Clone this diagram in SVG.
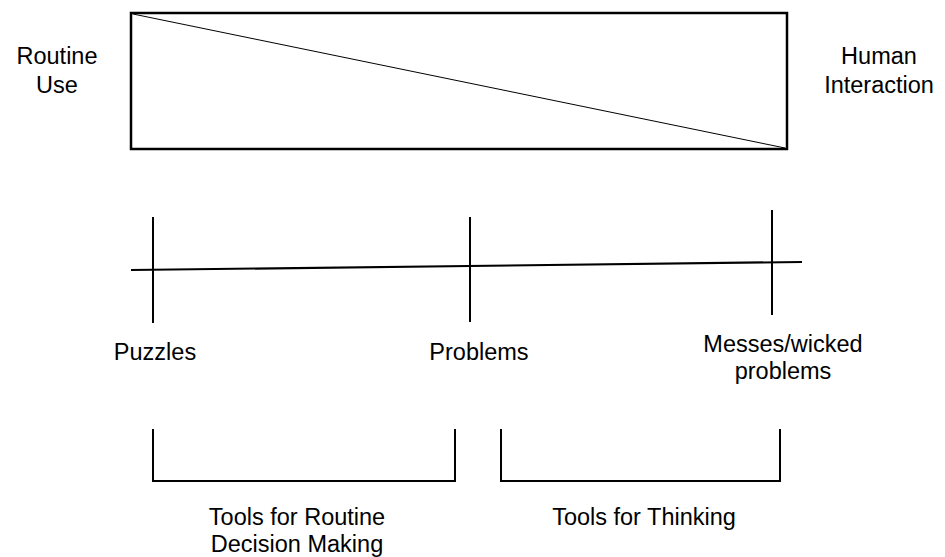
<svg xmlns="http://www.w3.org/2000/svg" width="945" height="557" viewBox="0 0 945 557">
  <style>
    .lbl { font-family: "Liberation Sans", Arial, sans-serif; font-size: 23.5px; fill: #000; text-anchor: middle; }
    .ln { stroke: #000; fill: none; }
  </style>
  <rect width="945" height="557" fill="#fff"/>

  <!-- spectrum box: routine use to human interaction -->
  <g id="spectrum-box">
    <rect x="131" y="13" width="656" height="136" class="ln" stroke-width="2.5"/>
    <line x1="133" y1="14" x2="785" y2="148" class="ln" stroke-width="1"/>
  </g>
  <g id="label-routine-use">
    <text class="lbl" x="57" y="64">Routine</text>
    <text class="lbl" x="57" y="93">Use</text>
  </g>
  <g id="label-human-interaction">
    <text class="lbl" x="879" y="64">Human</text>
    <text class="lbl" x="879" y="93">Interaction</text>
  </g>

  <!-- axis with tick marks -->
  <g id="connectors">
    <line x1="131" y1="270" x2="802" y2="262" class="ln" stroke-width="2.2"/>
    <line x1="153" y1="217" x2="153" y2="323" class="ln" stroke-width="2"/>
    <line x1="470" y1="217" x2="470" y2="322" class="ln" stroke-width="2"/>
    <line x1="772" y1="210" x2="772" y2="315" class="ln" stroke-width="2"/>
  </g>

  <g id="node-puzzles">
    <text class="lbl" x="155" y="360">Puzzles</text>
  </g>
  <g id="node-problems">
    <text class="lbl" x="479" y="360">Problems</text>
  </g>
  <g id="node-messes">
    <text class="lbl" x="783" y="352">Messes/wicked</text>
    <text class="lbl" x="783" y="379">problems</text>
  </g>

  <!-- tool brackets -->
  <g id="bracket-routine">
    <polyline points="153,429 153,481 455,481 455,429" class="ln" stroke-width="2"/>
    <text class="lbl" x="297" y="525">Tools for Routine</text>
    <text class="lbl" x="297" y="552">Decision Making</text>
  </g>
  <g id="bracket-thinking">
    <polyline points="501,429 501,481 780,481 780,429" class="ln" stroke-width="2"/>
    <text class="lbl" x="644" y="525">Tools for Thinking</text>
  </g>
</svg>
